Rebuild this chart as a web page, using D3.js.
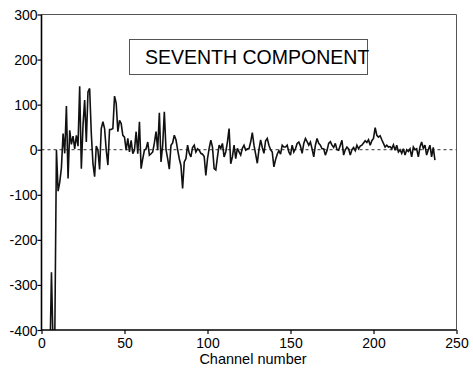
<!DOCTYPE html>
<html>
<head>
<meta charset="utf-8">
<script src="https://cdn.jsdelivr.net/npm/d3@7"></script>
<style>
  html, body { margin: 0; padding: 0; background: #fff; }
  svg { display: block; }
  text { font-family: "Liberation Sans", Arial, sans-serif; fill: #000; }
</style>
</head>
<body>
<svg id="chart" width="473" height="371"></svg>
<script>
// ---- data ----
const titleText = "SEVENTH COMPONENT";
const xLabel = "Channel number";
const xTicks = [0, 50, 100, 150, 200, 250];
const yTicks = [-400, -300, -200, -100, 0, 100, 200, 300];
const startChannel = 5;
const values = [
  -480, -272, -440, -420, 0, -92, -72, -40, 36, -8,          // 5-14
  97, -64, 43, 12, 30, 2, 32, 8, 141, -42,                    // 15-24
  54, 110, 17, 128, 136, 36, -31, -60, 8, -1,                 // 25-34
  -44, 47, 62, 47, -1, -34, 45, 45, 47, 119,                  // 35-44
  103, 40, 65, 58, 32, 28, -1, 25, -5, 21,                    // 45-54
  -9, -1, 40, -9, 62, -42, -20, -1, 2, 17,                    // 55-64
  -12, -9, -5, 15, 40, -1, 82, -27, 10, 84,                   // 65-74
  0, -20, -43, 10, 15, 32, 22, 0, -20, -35,                   // 75-84
  -86, -27, -20, 10, -8, -16, 5, 10, -5, 2,                   // 85-94
  -1, -8, -10, -15, -57, -20, 3, 21, 6, -42,                  // 95-104
  -45, -16, 10, 3, 14, -16, -5, 17, 47, -31,                  // 105-114
  -16, 10, -20, 3, -5, -12, 3, 10, -1, 2,                     // 115-124
  2, 17, 38, 10, -10, -30, 0, 22, 5, -8,                      // 125-134
  20, 25, 10, 0, -5, -38, -22, -10, -2, -10,                  // 135-144
  10, 6, 6, 10, -5, -12, 10, -5, 2, 14,                       // 145-154
  17, 8, -8, 14, 25, 18, 10, 17, 2, -16,                      // 155-164
  10, 25, 14, 10, 2, 2, -12, -2, 14, 18,                      // 165-174
  10, 5, 14, 0, -1, 10, 21, -12, 0, 6,                        // 175-184
  2, -12, 0, 5, -2, 10, 2, 8, 10, 15,                         // 185-194
  20, 16, 22, 10, 20, 25, 49, 32, 28, 31,                     // 195-204
  22, 14, 6, 10, 6, 7, 2, 11, -1, 10,                         // 205-214
  -5, 0, -8, 2, -12, 0, -4, 2, -16, 6,                        // 215-224
  0, 2, -16, 6, 17, 3, 10, -12, 0, 10,                        // 225-234
  -16, 5, -23                                                 // 235-237
];

// ---- layout ----
const svg = d3.select("#chart");
const L = 41.5, R = 456.5, T = 14.5, B = 330;
const x = d3.scaleLinear().domain([0, 250]).range([L, R]);
const y = d3.scaleLinear().domain([-400, 300]).range([B, T]);

const data = values.map((v, i) => ({ ch: startChannel + i, v }));

// clip
svg.append("defs").append("clipPath").attr("id", "plotclip")
  .append("rect").attr("x", L).attr("y", T).attr("width", R - L).attr("height", B - T);

// frame (top & right thin gray)
svg.append("line").attr("x1", L).attr("x2", R).attr("y1", T).attr("y2", T)
  .attr("stroke", "#555").attr("stroke-width", 1);
svg.append("line").attr("x1", R).attr("x2", R).attr("y1", T).attr("y2", B)
  .attr("stroke", "#555").attr("stroke-width", 1);

// zero dashed line
svg.append("line").attr("x1", L).attr("x2", R).attr("y1", y(0)).attr("y2", y(0))
  .attr("stroke", "#333").attr("stroke-width", 1).attr("stroke-dasharray", "3,3");

// title box
svg.append("rect").attr("x", 129.5).attr("y", 39.5).attr("width", 238).attr("height", 35)
  .attr("fill", "none").attr("stroke", "#555").attr("stroke-width", 1);
svg.append("text").attr("x", 145).attr("y", 64).attr("font-size", "19.5px").text(titleText);

// data line
svg.append("path").datum(data)
  .attr("clip-path", "url(#plotclip)")
  .attr("fill", "none").attr("stroke", "#111").attr("stroke-width", 1.6)
  .attr("stroke-linejoin", "miter").attr("stroke-miterlimit", 3)
  .attr("d", d3.line().x(d => x(d.ch)).y(d => y(d.v)));

// axes
const fmt = d => String(d);
const xAxis = svg.append("g").attr("transform", `translate(0,${B})`)
  .call(d3.axisBottom(x).tickValues(xTicks).tickFormat(fmt).tickSize(4).tickPadding(4));
const yAxis = svg.append("g").attr("transform", `translate(${L},0)`)
  .call(d3.axisLeft(y).tickValues(yTicks).tickFormat(fmt).tickSize(4).tickPadding(0));

[xAxis, yAxis].forEach(g => {
  g.select(".domain").attr("stroke", "#000").attr("stroke-width", 1.6);
  g.selectAll(".tick line").attr("stroke", "#000").attr("stroke-width", 1.2);
  g.selectAll(".tick text").attr("font-family", "'Liberation Sans', Arial, sans-serif")
    .attr("font-size", "14px").attr("fill", "#000");
});
xAxis.select(".domain").attr("d", `M${L},0H${R}`);
yAxis.select(".domain").attr("d", `M0,${T}V${B}`);
yAxis.selectAll(".tick text").attr("dy", "0.36em");

// x label
svg.append("text").attr("x", 253).attr("y", 364).attr("text-anchor", "middle")
  .attr("font-size", "14.5px").text(xLabel);
</script>
</body>
</html>
